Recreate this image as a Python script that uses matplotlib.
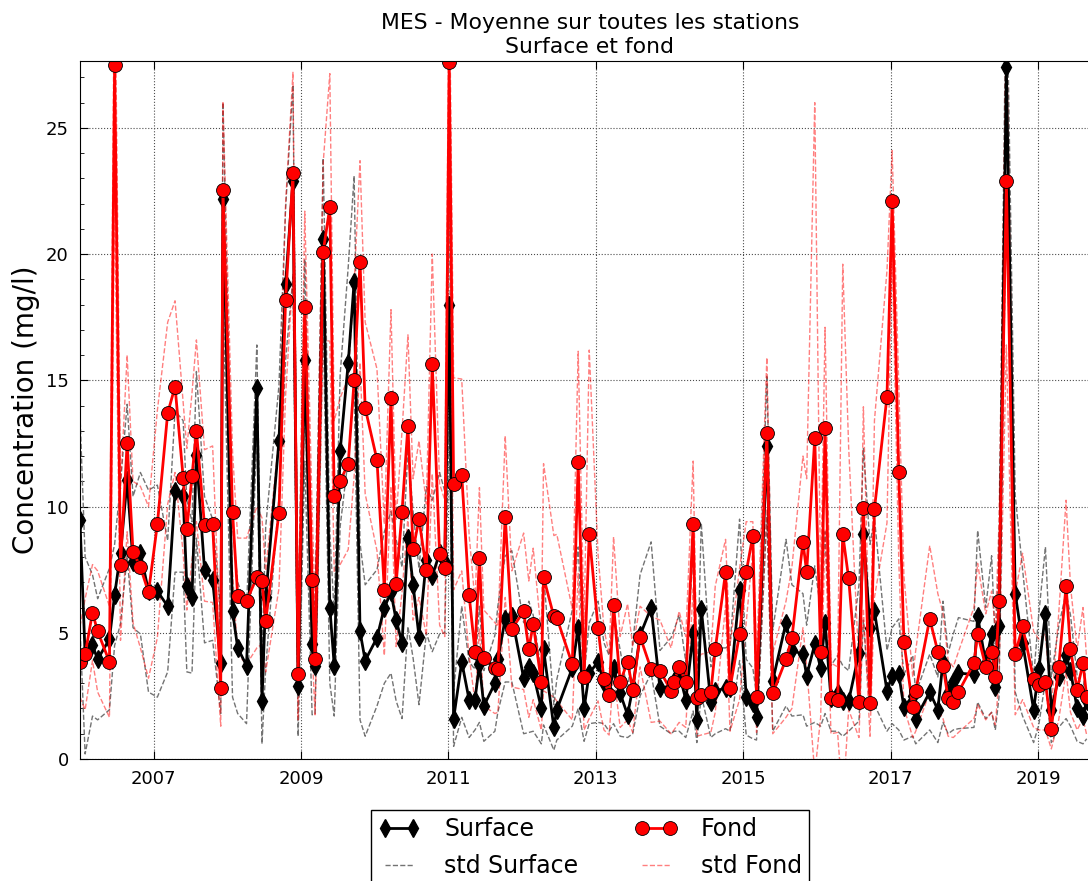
import matplotlib
matplotlib.use("Agg")
import matplotlib.pyplot as plt
import numpy as np

# dates en annee decimale
annees = [2006.00, 2006.07, 2006.17, 2006.24, 2006.40, 2006.47, 2006.55, 2006.64, 2006.72, 2006.82, 2006.93,
          2007.05, 2007.19, 2007.29, 2007.40, 2007.45, 2007.52, 2007.58, 2007.69, 2007.80, 2007.91, 2007.94,
          2008.07, 2008.14, 2008.26, 2008.40, 2008.47, 2008.52, 2008.70, 2008.79, 2008.89, 2008.96,
          2009.05, 2009.15, 2009.19, 2009.30, 2009.39, 2009.45, 2009.53, 2009.64, 2009.72, 2009.80, 2009.87,
          2010.03, 2010.13, 2010.22, 2010.29, 2010.37, 2010.45, 2010.52, 2010.60, 2010.70, 2010.78, 2010.88, 2010.95,
          2011.01, 2011.07, 2011.18, 2011.28, 2011.36, 2011.42, 2011.48, 2011.63, 2011.67, 2011.77, 2011.86,
          2012.02, 2012.09, 2012.15, 2012.26, 2012.29, 2012.43, 2012.47, 2012.68, 2012.76, 2012.84, 2012.91,
          2013.03, 2013.11, 2013.18, 2013.24, 2013.33, 2013.43, 2013.50, 2013.60, 2013.75, 2013.87,
          2014.02, 2014.06, 2014.13, 2014.22, 2014.32, 2014.37, 2014.43, 2014.56, 2014.62, 2014.76, 2014.82, 2014.95,
          2015.04, 2015.13, 2015.18, 2015.32, 2015.40, 2015.58, 2015.66, 2015.81, 2015.86, 2015.97,
          2016.05, 2016.11, 2016.19, 2016.28, 2016.35, 2016.43, 2016.57, 2016.63, 2016.72, 2016.78, 2016.95,
          2017.02, 2017.11, 2017.18, 2017.30, 2017.34, 2017.53, 2017.64, 2017.71, 2017.78, 2017.85, 2017.92,
          2018.13, 2018.18, 2018.29, 2018.37, 2018.42, 2018.47, 2018.57, 2018.69, 2018.79, 2018.94,
          2019.01, 2019.10, 2019.18, 2019.28, 2019.38, 2019.44, 2019.53, 2019.61, 2019.66]

surface = [9.45, 4.1, 4.5, 3.95, 4.75, 6.5, 8.15, 11.05, 7.8, 8.15, 6.65,
           6.65, 6.05, 10.6, 10.4, 6.85, 6.4, 12.05, 7.5, 7.1, 3.8, 22.2,
           5.85, 4.4, 3.7, 14.7, 2.3, 6.4, 12.6, 18.8, 22.9, 2.9,
           15.8, 4.55, 3.7, 20.6, 6.0, 3.7, 12.2, 15.7, 18.9, 5.05, 3.9,
           4.8, 6.0, 6.6, 5.5, 4.6, 8.75, 6.9, 4.85, 7.9, 7.25, 8.15, 7.8,
           18.0, 1.6, 3.85, 2.35, 2.35, 3.75, 2.1, 3.0, 3.95, 5.55, 5.65,
           3.2, 3.65, 3.4, 2.0, 4.35, 1.25, 1.95, 3.6, 5.2, 2.0, 3.4,
           3.85, 3.0, 2.6, 3.6, 2.6, 1.75, 2.8, 4.9, 6.0, 2.8,
           2.9, 3.1, 3.4, 2.35, 5.0, 1.55, 5.95, 2.25, 2.7, 2.8, 2.8, 6.7,
           2.45, 2.2, 1.65, 12.4, 3.1, 5.4, 4.3, 4.15, 3.3, 4.55,
           3.6, 5.4, 2.4, 2.6, 2.3, 2.3, 4.2, 8.9, 5.2, 5.85, 2.7,
           3.3, 3.35, 2.05, 2.5, 1.6, 2.65, 1.95, 3.85, 2.6, 3.05, 3.4,
           3.35, 5.65, 3.8, 4.95, 2.85, 5.25, 27.4, 6.55, 4.6, 1.95,
           3.55, 5.75, 1.95, 3.25, 4.1, 3.5, 2.0, 1.7, 2.3]

fond = [3.85, 4.15, 5.8, 5.05, 3.85, 27.5, 7.7, 12.5, 8.2, 7.6, 6.6,
        9.3, 13.7, 14.75, 11.15, 9.1, 11.2, 13.0, 9.25, 9.3, 2.8, 22.55,
        9.8, 6.45, 6.25, 7.2, 7.05, 5.45, 9.75, 18.2, 23.2, 3.35,
        17.9, 7.1, 3.95, 20.1, 21.85, 10.4, 11.0, 11.7, 15.0, 19.7, 13.9,
        11.85, 6.7, 14.3, 6.95, 9.8, 13.2, 8.3, 9.5, 7.5, 15.65, 8.1, 7.55,
        27.6, 10.9, 11.25, 6.5, 4.25, 7.95, 4.0, 3.6, 3.55, 9.6, 5.15,
        5.85, 4.35, 5.35, 3.05, 7.2, 5.65, 5.6, 3.75, 11.75, 3.25, 8.9,
        5.2, 3.15, 2.55, 6.1, 3.05, 3.85, 2.75, 4.85, 3.55, 3.5,
        2.7, 3.05, 3.65, 3.05, 9.3, 2.4, 2.55, 2.65, 4.35, 7.4, 2.8, 4.95,
        7.4, 8.85, 2.45, 12.9, 2.6, 3.95, 4.8, 8.6, 7.4, 12.7,
        4.25, 13.1, 2.4, 2.35, 8.9, 7.15, 2.25, 9.95, 2.2, 9.9, 14.35,
        22.1, 11.35, 4.65, 2.05, 2.7, 5.55, 4.25, 3.7, 2.4, 2.25, 2.65,
        3.8, 4.95, 3.65, 4.25, 3.25, 6.25, 22.9, 4.15, 5.25, 3.15,
        2.95, 3.05, 1.2, 3.65, 6.85, 4.35, 2.75, 3.8, 2.45]

std_surface = [4.2, 3.9, 2.8, 2.4, 2.8, 2.0, 2.8, 3.0, 2.6, 3.2, 4.0,
               4.2, 2.6, 3.2, 3.0, 3.4, 3.0, 3.3, 2.9, 2.4, 2.0, 3.8,
               3.4, 2.6, 2.3, 1.7, 1.7, 2.8, 2.2, 3.0, 3.8, 2.0,
               4.0, 2.8, 1.9, 3.2, 3.0, 2.0, 3.0, 3.8, 4.2, 3.5, 3.0,
               2.7, 3.0, 3.2, 3.2, 3.0, 3.5, 2.9, 2.7, 2.9, 3.0, 3.2, 2.8,
               4.5, 1.1, 2.2, 1.5, 1.2, 2.3, 1.4, 1.9, 2.1, 2.5, 2.6,
               2.2, 2.6, 2.3, 1.4, 3.0, 0.9, 1.2, 2.3, 3.2, 1.3, 2.0,
               2.4, 1.6, 1.5, 2.2, 1.7, 0.9, 1.8, 2.4, 2.6, 1.5,
               1.9, 2.0, 2.3, 1.5, 3.1, 0.9, 3.4, 1.4, 1.7, 1.6, 1.7, 2.8,
               1.5, 1.4, 0.9, 2.8, 2.0, 3.3, 2.6, 2.4, 2.0, 3.1,
               2.3, 3.6, 1.3, 1.5, 1.4, 1.2, 2.7, 3.4, 3.3, 3.7, 1.6,
               1.9, 2.2, 1.3, 1.6, 1.0, 1.5, 1.3, 2.4, 1.6, 1.9, 2.2,
               2.1, 3.4, 2.2, 3.1, 1.7, 2.8, 4.5, 3.9, 2.9, 1.3,
               2.2, 2.65, 1.3, 2.0, 2.5, 2.2, 1.3, 1.1, 1.5]

std_fond = [1.4, 2.2, 1.9, 2.4, 2.2, 5.0, 3.0, 3.5, 2.8, 3.2, 3.4,
            4.5, 3.6, 3.4, 3.0, 3.2, 3.3, 3.6, 3.0, 3.1, 1.5, 3.5,
            2.4, 2.3, 2.5, 2.8, 2.5, 2.0, 3.0, 3.8, 4.0, 1.8,
            3.8, 2.8, 2.2, 3.5, 5.3, 3.0, 3.3, 3.4, 3.8, 4.0, 3.4,
            3.6, 2.6, 3.5, 2.5, 3.2, 3.6, 2.8, 3.1, 2.6, 4.35, 2.8, 2.7,
            4.0, 4.2, 3.8, 2.4, 2.0, 2.8, 1.9, 1.8, 1.7, 3.2, 2.3,
            3.1, 2.7, 3.0, 1.9, 4.5, 3.2, 3.3, 2.2, 4.4, 2.1, 7.3,
            2.9, 2.0, 1.6, 2.7, 1.8, 2.3, 1.7, 1.2, 2.1, 2.0,
            1.7, 1.9, 2.2, 1.8, 2.5, 1.5, 1.6, 1.6, 2.5, 1.3, 1.7, 2.6,
            2.0, 0.55, 1.4, 3.0, 1.6, 2.3, 2.8, 3.4, 3.7, 13.3,
            2.6, 4.0, 1.4, 1.3, 10.7, 5.2, 1.4, 4.0, 1.3, 3.5, 5.0,
            2.0, 3.5, 2.6, 1.2, 1.6, 2.9, 2.3, 2.1, 1.5, 1.4, 1.6,
            2.2, 2.8, 2.1, 2.4, 1.9, 3.1, 6.5, 2.4, 2.9, 1.9,
            1.8, 1.9, 0.8, 2.1, 3.4, 2.5, 1.6, 2.2, 1.5]

x = np.array(annees)
s = np.array(surface)
f = np.array(fond)
ss = np.array(std_surface)
sf = np.array(std_fond)

fig = plt.figure(figsize=(10.88, 8.81), dpi=100)
ax = fig.add_axes([0.0735, 0.1385, 0.9375, 0.7923])

# enveloppes +/- ecart type
ax.plot(x, s + ss, '--', color='0.45', lw=1, label='std Surface')
ax.plot(x, s - ss, '--', color='0.45', lw=1)
ax.plot(x, f + sf, '--', color='red', alpha=0.5, lw=1, label='std Fond')
ax.plot(x, f - sf, '--', color='red', alpha=0.5, lw=1)

ax.plot(x, s, '-', color='black', lw=2, marker='d', markersize=9,
        markerfacecolor='black', markeredgecolor='black', label='Surface')
ax.plot(x, f, '-', color='red', lw=2, marker='o', markersize=10,
        markerfacecolor='red', markeredgecolor='black', markeredgewidth=0.6, label='Fond')

ax.set_xlim(2006.0, 2019.84)
ax.set_ylim(0, 27.65)
ax.set_xticks([2007, 2009, 2011, 2013, 2015, 2017, 2019])
ax.set_xticklabels(['2007', '2009', '2011', '2013', '2015', '2017', '2019'])
ax.set_yticks([0, 5, 10, 15, 20, 25])
ax.set_yticks(np.arange(0, 28, 1), minor=True)
ax.tick_params(axis='both', which='both', direction='in', top=True, right=True, labelsize=13)
ax.tick_params(axis='both', which='major', length=6, pad=8)
ax.tick_params(axis='both', which='minor', length=3)
ax.grid(True, which='major', linestyle=':', color='0.3', linewidth=0.8)

ax.set_ylabel('Concentration (mg/l)', fontsize=20)
ax.set_title('MES - Moyenne sur toutes les stations\nSurface et fond', fontsize=15.75, linespacing=1.2)

h, l = ax.get_legend_handles_labels()
ax.legend([h[i] for i in [2, 0, 3, 1]], [l[i] for i in [2, 0, 3, 1]],
          loc='upper center', bbox_to_anchor=(0.5, -0.056), ncol=2, fontsize=17,
          numpoints=2, handlelength=1.8, handletextpad=1.0, columnspacing=2.4,
          labelspacing=0.55, fancybox=False, edgecolor='black', framealpha=1,
          borderpad=0.3)

fig.savefig('out.png', dpi=100)
